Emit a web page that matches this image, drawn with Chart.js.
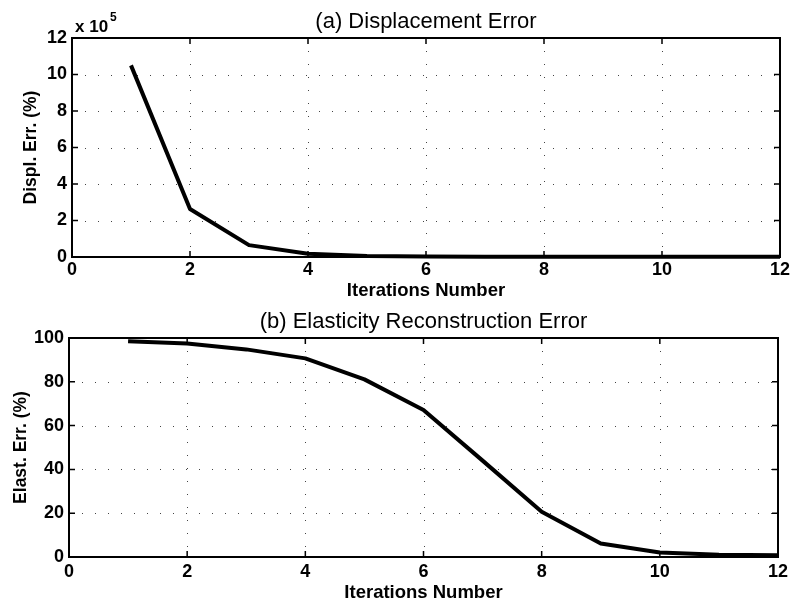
<!DOCTYPE html>
<html><head><meta charset="utf-8">
<script src="https://cdn.jsdelivr.net/npm/chart.js@4.4.1/dist/chart.umd.min.js"></script>
<style>
html,body{margin:0;padding:0;background:#fff;}
#wrap{position:relative;width:793px;height:602px;background:#fff;}
canvas{position:absolute;left:0;}
</style>
</head><body>
<div id="wrap">
<canvas id="c1" width="793" height="300" style="top:0px;width:793px;height:300px"></canvas>
<canvas id="c2" width="793" height="302" style="top:300px;width:793px;height:302px"></canvas>
</div>
<script>
// ---- data ----
const iterations = [1, 2, 3, 4, 5, 6, 7, 8, 9, 10, 11, 12];
const displErr = [1050000, 263000, 65000, 18000, 6000, 3000, 2000, 1000, 1000, 1000, 1000, 1000]; // %
const elastErr = [98.5, 97.5, 94.8, 90.7, 81.1, 67.1, 44.0, 20.7, 6.2, 2.1, 1.0, 0.8]; // %
const xTicks = [0, 2, 4, 6, 8, 10, 12];
const displTicks = [0, 200000, 400000, 600000, 800000, 1000000, 1200000];
const elastTicks = [0, 20, 40, 60, 80, 100];
const titleA = '(a) Displacement Error';
const titleB = '(b) Elasticity Reconstruction Error';
const xLabel = 'Iterations Number';
const yLabelA = 'Displ. Err. (%)';
const yLabelB = 'Elast. Err. (%)';
const expLabel = 'x 10';
const expPower = '5';

const FONT = '"Liberation Sans", Arial, Helvetica, sans-serif';

const framePlugin = {
  id: 'frame',
  beforeDatasetsDraw(chart) {
    const {ctx, chartArea: a, scales: {x, y}} = chart;
    ctx.save();
    ctx.strokeStyle = '#444';
    ctx.lineWidth = 1;
    ctx.setLineDash([1, 12]);
    x.ticks.forEach(t => {
      const px = Math.round(x.getPixelForValue(t.value)) + 0.5;
      if (px <= a.left + 3 || px >= a.right - 3) return;
      ctx.beginPath(); ctx.moveTo(px, a.top); ctx.lineTo(px, a.bottom); ctx.stroke();
    });
    y.ticks.forEach(t => {
      const py = Math.round(y.getPixelForValue(t.value)) + 0.5;
      if (py <= a.top + 3 || py >= a.bottom - 3) return;
      ctx.beginPath(); ctx.moveTo(a.left, py); ctx.lineTo(a.right, py); ctx.stroke();
    });
    ctx.restore();
  },
  afterDatasetsDraw(chart) {
    const {ctx, chartArea: a, scales: {x, y}} = chart;
    ctx.save();
    ctx.strokeStyle = '#000';
    ctx.setLineDash([]);
    ctx.lineWidth = 2;
    ctx.strokeRect(a.left, a.top, a.right - a.left, a.bottom - a.top);
    ctx.lineWidth = 1.5;
    const L = 6;
    x.ticks.forEach(t => {
      const px = x.getPixelForValue(t.value);
      ctx.beginPath();
      ctx.moveTo(px, a.bottom); ctx.lineTo(px, a.bottom - L);
      ctx.moveTo(px, a.top); ctx.lineTo(px, a.top + L);
      ctx.stroke();
    });
    y.ticks.forEach(t => {
      const py = y.getPixelForValue(t.value);
      ctx.beginPath();
      ctx.moveTo(a.left, py); ctx.lineTo(a.left + L, py);
      ctx.moveTo(a.right, py); ctx.lineTo(a.right - L, py);
      ctx.stroke();
    });
    ctx.restore();
  }
};

const expPlugin = {
  id: 'exponent',
  afterDraw(chart) {
    const {ctx, chartArea: a} = chart;
    ctx.save();
    ctx.fillStyle = '#000';
    ctx.textBaseline = 'alphabetic';
    ctx.textAlign = 'left';
    ctx.font = 'bold 17px ' + FONT;
    ctx.fillText(expLabel, a.left + 3, a.top - 6);
    const w = ctx.measureText(expLabel).width;
    ctx.font = 'bold 12px ' + FONT;
    ctx.fillText(expPower, a.left + 3 + w + 2, a.top - 17);
    ctx.restore();
  }
};

function makeChart(id, values, yTicks, yMax, yLabel, title, cfg, extraPlugins, tickCb) {
  return new Chart(document.getElementById(id), {
    type: 'line',
    data: {
      datasets: [{
        data: iterations.map((it, i) => ({x: it, y: values[i]})),
        borderColor: '#000',
        borderWidth: 4,
        pointRadius: 0,
        tension: 0,
        fill: false,
        clip: false,
        borderJoinStyle: 'round',
        borderCapStyle: 'butt'
      }]
    },
    options: {
      responsive: false,
      animation: false,
      events: [],
      layout: {padding: {left: 0, right: cfg.right, top: 0, bottom: 0}},
      plugins: {
        legend: {display: false},
        tooltip: {enabled: false},
        title: {
          display: true,
          text: title,
          color: '#000',
          fullSize: false,
          font: {family: FONT, size: 22, weight: 'normal', lineHeight: 1.2},
          padding: {top: 8.8, bottom: 2.8}
        }
      },
      scales: {
        x: {
          type: 'linear',
          min: 0, max: 12,
          afterBuildTicks: s => { s.ticks = xTicks.map(v => ({value: v})); },
          afterFit: s => { s.height = cfg.xHeight; },
          grid: {display: false, drawTicks: false},
          border: {display: false},
          ticks: {color: '#000', padding: cfg.xTickPad, maxRotation: 0, font: {family: FONT, size: 18, weight: 'bold'}},
          title: {display: true, text: xLabel, color: '#000', padding: {top: 0, bottom: 0},
                  font: {family: FONT, size: 18.5, weight: 'bold', lineHeight: 1}}
        },
        y: {
          type: 'linear',
          min: 0, max: yMax,
          afterBuildTicks: s => { s.ticks = yTicks.map(v => ({value: v})); },
          afterFit: s => { s.width = cfg.yWidth; },
          grid: {display: false, drawTicks: false},
          border: {display: false},
          ticks: {color: '#000', padding: 5, font: {family: FONT, size: 18, weight: 'bold'}, callback: tickCb},
          title: {display: true, text: yLabel, color: '#000', padding: {top: cfg.yTitlePad, bottom: 0},
                  font: {family: FONT, size: 17.5, weight: 'bold', lineHeight: 1}}
        }
      }
    },
    plugins: [framePlugin].concat(extraPlugins)
  });
}

makeChart('c1', displErr, displTicks, 1200000, yLabelA, titleA,
  {right: 13, xHeight: 43, yWidth: 72, yTitlePad: 22, xTickPad: 2}, [expPlugin], v => String(v / 100000));
makeChart('c2', elastErr, elastTicks, 100, yLabelB, titleB,
  {right: 15, xHeight: 45, yWidth: 69, yTitlePad: 12, xTickPad: 4}, [], v => String(v));
</script>
</body></html>
